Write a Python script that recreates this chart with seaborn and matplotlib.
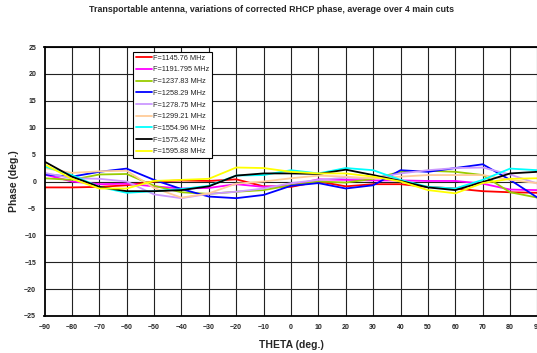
import numpy as np
import pandas as pd
import matplotlib
matplotlib.use("Agg")
import matplotlib.pyplot as plt
import seaborn as sns

theta = [-90, -80, -70, -60, -50, -40, -30, -20, -10, 0, 10, 20, 30, 40, 50, 60, 70, 80, 90]

labels = ["F=1145.76 MHz", "F=1191.795 MHz", "F=1237.83 MHz", "F=1258.29 MHz",
          "F=1278.75 MHz", "F=1299.21 MHz", "F=1554.96 MHz", "F=1575.42 MHz",
          "F=1595.88 MHz"]
colors = ["#ff0000", "#ff00ff", "#99cc00", "#0000ff", "#cc99ff", "#ffcc99",
          "#00ffff", "#000000", "#ffff00"]

f1145 = [-1.1, -1.1, -1.0, -0.7, 0.0, 0.2, 0.1, 0.4, -0.9, -1.0, 0.0, -0.9, -0.5, -0.5, -1.0, -1.3, -1.8, -2.0, -2.1]
f1191 = [1.3, 0.0, -0.5, -0.4, -0.9, -1.3, -1.2, -0.5, -1.0, -0.7, 0.4, 0.3, 0.2, 0.2, 0.1, 0.1, -0.4, -1.5, -1.6]
f1237 = [0.6, 0.3, 1.3, 1.4, -0.8, -2.0, -2.3, -1.9, -1.6, -0.7, 0.0, -0.2, 0.5, 1.8, 2.0, 1.8, 1.2, -2.0, -3.0]
f1258 = [1.3, 0.9, 1.8, 2.4, 0.3, -1.4, -2.8, -3.1, -2.5, -0.8, -0.3, -1.3, -0.7, 2.1, 1.8, 2.5, 3.2, 0.3, -3.0]
f1278 = [1.6, 0.6, 0.5, 0.0, -2.4, -3.1, -2.3, -1.9, -1.3, -0.3, 0.3, 0.7, 0.6, 1.5, 2.1, 2.5, 2.6, 1.3, -0.4]
f1299 = [2.5, 1.6, 1.9, 2.0, -1.2, -3.0, -2.2, -0.4, 0.0, 0.6, 1.1, 0.9, 0.6, 0.9, 1.2, 1.2, 1.2, 0.3, -0.3]
f1554 = [2.8, 1.2, -1.0, -2.1, -1.8, -1.4, -0.8, 1.1, 1.2, 2.1, 1.5, 2.5, 2.1, 0.3, -1.0, -1.3, 0.3, 2.4, 2.1]
f1575 = [3.7, 0.9, -1.0, -1.8, -1.8, -1.6, -0.9, 1.1, 1.5, 1.5, 1.4, 2.2, 1.2, 0.1, -1.1, -1.6, -0.1, 1.5, 1.8]
f1595 = [3.2, 0.5, -1.3, -1.3, 0.1, 0.3, 0.5, 2.6, 2.5, 1.8, 1.5, 1.5, 0.9, 0.0, -1.6, -2.2, -0.3, 0.5, 0.6]

series = [f1145, f1191, f1237, f1258, f1278, f1299, f1554, f1575, f1595]

rows = []
for lab, vals in zip(labels, series):
    for t, v in zip(theta, vals):
        rows.append({"theta": t, "phase": v, "freq": lab})
df = pd.DataFrame(rows)

sns.set_style("white")
plt.rcParams["font.family"] = ["Liberation Sans", "DejaVu Sans"]

W, H = 537, 353
fig = plt.figure(figsize=(W / 100, H / 100), dpi=100)
ax = fig.add_axes([44.5 / W, 1 - 316 / H, (537.5 - 44.5) / W, (316 - 47) / H])

sns.lineplot(data=df, x="theta", y="phase", hue="freq", hue_order=labels,
             palette=colors, linewidth=1.3, ax=ax, legend=True)

ax.set_xlim(-90, 90)
ax.set_ylim(-25, 25)
ax.set_xticks(np.arange(-90, 91, 10))
ax.set_yticks(np.arange(-25, 26, 5))
ax.grid(True, color="#222222", linewidth=0.8)
ax.tick_params(axis="both", length=0, labelsize=5)
ax.tick_params(axis="x", pad=6)
ax.tick_params(axis="y", pad=6)
for lbl in ax.get_xticklabels() + ax.get_yticklabels():
    lbl.set_fontweight("bold")
for sp in ["left", "bottom", "top"]:
    ax.spines[sp].set_color("black")
    ax.spines[sp].set_linewidth(1.3)
ax.spines["right"].set_visible(False)

ax.set_xlabel("THETA (deg.)", fontsize=7.5, fontweight="bold", labelpad=6)
ax.set_ylabel("Phase (deg.)", fontsize=7.5, fontweight="bold", labelpad=4)

fig.text(0.505, 1 - 10 / H, "Transportable antenna, variations of corrected RHCP phase, average over 4 main cuts",
         ha="center", va="center", fontsize=6.4, fontweight="bold")

leg = ax.legend(loc="upper left", bbox_to_anchor=(133 / W, 1 - 52 / H),
                bbox_transform=fig.transFigure, fontsize=5.3, frameon=True,
                fancybox=False, edgecolor="black", framealpha=1,
                handlelength=2.2, handletextpad=0.15, labelspacing=0.62,
                borderpad=0.35, borderaxespad=0)
leg.get_frame().set_linewidth(0.8)
for line in leg.get_lines():
    line.set_linewidth(1.3)

fig.savefig("out.png", dpi=100)
